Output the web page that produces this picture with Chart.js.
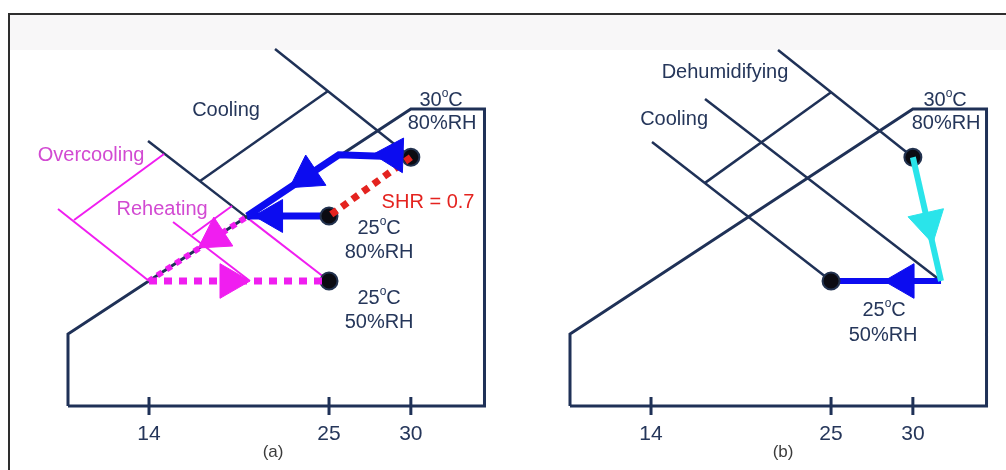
<!DOCTYPE html>
<html>
<head>
<meta charset="utf-8">
<script src="https://cdn.jsdelivr.net/npm/chart.js@4.4.1/dist/chart.umd.min.js"></script>
<style>
    html, body { margin: 0; padding: 0; background: #fff; }
    #page { position: relative; width: 1006px; height: 470px; overflow: hidden; background: #fff; }
    #band { position: absolute; left: 10px; top: 15px; right: 0; height: 35px; background: #f8f7f8; }
    #frame { position: absolute; left: 8px; top: 13px; right: -10px; bottom: -10px;
             border-top: 2px solid #2e2e2e; border-left: 2px solid #2e2e2e; }
    canvas { position: absolute; top: 0; }
    #chartA { left: 0; }
    #chartB { left: 502px; }
</style>
</head>
<body>
<div id="page">
    <div id="band"></div>
    <div id="frame"></div>
    <canvas id="chartA" width="502" height="470"></canvas>
    <canvas id="chartB" width="504" height="470"></canvas>
</div>
<script>
// x = dry-bulb temperature (°C), y = moisture content (g/kg)
const tickTemps = [14, 25, 30];

// chart outline with the saturation line (shared by both panels)
const outline = [[9.05, 0], [34.5, 0], [34.5, 23.76], [30, 23.76], [9.05, 5.76], [9.05, 0]];

// states
const hotHumid = [30, 19.9];     // 30°C 80%RH
const warmHumid = [25, 15.2];    // 25°C 80%RH
const room = [25, 10];           // 25°C 50%RH
const dewPoint = [14, 10];
const coilOut = [20.0, 15.2];

// panel (a)
const enthalpyA1 = [[21.7, 28.56], hotHumid];
const enthalpyA2 = [[13.94, 21.2], [20.17, 14.89]];
const enthalpyA2End = [[20.17, 14.89], room];
const coolingDimA = [[17.12, 18.0], [24.94, 25.2]];
const overcoolLine = [[8.44, 15.76], dewPoint];
const overcoolDim = [[9.42, 14.88], [14.92, 20.16]];
const reheatLine = [[15.47, 14.72], [20.17, 10]];
const reheatDim = [[16.63, 13.68], [19.07, 16.0]];
const coolPathHot = [hotHumid, [25.6, 20.1], coilOut];
const coolPathWarm = [warmHumid, coilOut];
const overcoolPath = [[19.87, 15.04], dewPoint];
const reheatPath = [dewPoint, room];
const shrLine = [hotHumid, warmHumid];

// panel (b)
const enthalpyB1 = [[21.76, 28.48], hotHumid];
const enthalpyB2 = [[17.3, 24.56], [31.72, 10]];
const enthalpyB3 = [[14.06, 21.12], room];
const dimB = [[17.3, 17.85], [25, 25.1]];
const dehumPath = [hotHumid, [31.72, 10]];
const coolPathB = [[31.72, 10], room];

const navy = "#1f3157";
const textNavy = "#25365a";
const magenta = "#f01ef0";
const magentaText = "#d24ad2";
const blue = "#0c0cf0";
const cyan = "#2ae4ea";
const red = "#e4231f";
const font = "'Liberation Sans', Arial, sans-serif";

const labelsA = [
    {text: "Cooling", at: [18.71, 23.68]},
    {text: "Overcooling", at: [10.46, 20.08], color: magentaText},
    {text: "Reheating", at: [14.8, 15.76], color: magentaText},
    {text: "30°C", at: [31.85, 24.48]},
    {text: "80%RH", at: [31.91, 22.64]},
    {text: "SHR = 0.7", at: [31.05, 16.32], color: red},
    {text: "25°C", at: [28.06, 14.24]},
    {text: "80%RH", at: [28.06, 12.32]},
    {text: "25°C", at: [28.06, 8.64]},
    {text: "50%RH", at: [28.06, 6.72]},
    {text: "(a)", at: [21.58, -3.68], size: 17, color: "#3b3b3b"},
];

const labelsB = [
    {text: "Dehumidifying", at: [18.52, 26.72]},
    {text: "Cooling", at: [15.41, 22.96]},
    {text: "30°C", at: [31.97, 24.48]},
    {text: "80%RH", at: [32.03, 22.64]},
    {text: "25°C", at: [28.24, 7.68]},
    {text: "50%RH", at: [28.18, 5.68]},
    {text: "(b)", at: [22.07, -3.68], size: 17, color: "#3b3b3b"},
];

function angleFor(chart, from, to) {
    const xs = chart.scales.x;
    const ys = chart.scales.y;
    const dx = xs.getPixelForValue(to[0]) - xs.getPixelForValue(from[0]);
    const dy = ys.getPixelForValue(to[1]) - ys.getPixelForValue(from[1]);
    return Math.atan2(dx, -dy) * 180 / Math.PI;
}

function line(points, color, width, order, extra = {}) {
    return Object.assign({
        data: points.map(([x, y]) => ({x, y})),
        showLine: true,
        borderColor: color,
        borderWidth: width,
        borderCapStyle: "butt",
        borderJoinStyle: "miter",
        pointRadius: 0,
        tension: 0,
        fill: false,
        clip: false,
        order,
    }, extra);
}

function arrow(at, from, to, color, radius, order) {
    return {
        data: [{x: at[0], y: at[1]}],
        showLine: false,
        pointStyle: "triangle",
        pointRadius: radius,
        pointBackgroundColor: color,
        pointBorderColor: color,
        pointBorderWidth: 1,
        pointRotation: ctx => angleFor(ctx.chart, from, to),
        clip: false,
        order,
    };
}

function dots(points, order) {
    return {
        data: points.map(([x, y]) => ({x, y})),
        showLine: false,
        pointStyle: "circle",
        pointRadius: 8.5,
        pointBackgroundColor: "#0b0b12",
        pointBorderColor: "#22324f",
        pointBorderWidth: 2,
        clip: false,
        order,
    };
}

function frameSets() {
    const sets = [line(outline, navy, 3, 9)];
    tickTemps.forEach(t => sets.push(line([[t, -0.72], [t, 0.72]], navy, 3, 9)));
    return sets;
}

function drawText(ctx, item) {
    const size = item.size || 20;
    const parts = item.text.split("°");
    ctx.fillStyle = item.color || textNavy;
    ctx.textBaseline = "middle";
    ctx.textAlign = "left";
    ctx.font = size + "px " + font;
    if (parts.length === 1) {
        const w = ctx.measureText(item.text).width;
        ctx.fillText(item.text, item.px - w / 2, item.py);
        return;
    }
    // superscript "o" for the degree mark
    const small = Math.round(size * 0.62) + "px " + font;
    const w1 = ctx.measureText(parts[0]).width;
    const w3 = ctx.measureText(parts[1]).width;
    ctx.font = small;
    const w2 = ctx.measureText("o").width;
    let x = item.px - (w1 + w2 + w3) / 2;
    ctx.font = size + "px " + font;
    ctx.fillText(parts[0], x, item.py);
    x += w1;
    ctx.font = small;
    ctx.fillText("o", x, item.py - size * 0.3);
    x += w2;
    ctx.font = size + "px " + font;
    ctx.fillText(parts[1], x, item.py);
}

const labelPlugin = {
    id: "labels",
    afterDatasetsDraw(chart, args, opts) {
        const {ctx, scales: {x, y}} = chart;
        ctx.save();
        opts.items.forEach(item => {
            drawText(ctx, Object.assign({}, item, {
                px: x.getPixelForValue(item.at[0]),
                py: y.getPixelForValue(item.at[1]),
            }));
        });
        ctx.restore();
    }
};

function options(xMax, labels) {
    return {
        responsive: false,
        animation: false,
        events: [],
        layout: {padding: 0, autoPadding: false},
        plugins: {
            legend: {display: false},
            tooltip: {enabled: false},
            labels: {items: labels},
        },
        scales: {
            x: {
                type: "linear",
                min: 4.895,
                max: xMax,
                grid: {display: false},
                border: {display: false},
                afterBuildTicks: scale => {
                    scale.ticks = tickTemps.map(v => ({value: v}));
                },
                afterFit: scale => {
                    scale.height = 64;
                },
                ticks: {
                    color: textNavy,
                    padding: 8,
                    font: {size: 21, family: font},
                    callback: v => String(v),
                },
            },
            y: {display: false, min: 0, max: 32.48},
        },
    };
}

Chart.defaults.font.family = font;

new Chart(document.getElementById("chartA"), {
    type: "scatter",
    data: {
        datasets: [
            arrow([28.91, 20.08], hotHumid, [25.6, 20.1], blue, 20, 0),
            arrow([23.66, 18.4], [25.6, 20.1], coilOut, blue, 21, 0),
            arrow([21.58, 15.2], warmHumid, coilOut, blue, 19, 0),
            arrow([18.95, 10], dewPoint, room, magenta, 20, 0),
            arrow([18.03, 13.52], [19.87, 15.04], dewPoint, magenta, 20, 0),
            line(shrLine, red, 7, 1, {borderDash: [7, 6]}),
            line(reheatPath, magenta, 7, 2, {borderDash: [8, 7]}),
            line(overcoolPath, magenta, 6, 2, {borderDash: [6, 5]}),
            dots([hotHumid, warmHumid, room], 3),
            line(coolPathHot, blue, 7, 4),
            line(coolPathWarm, blue, 7, 4),
            line(enthalpyA2End, magenta, 2, 5),
            line(overcoolLine, magenta, 2, 5),
            line(overcoolDim, magenta, 2, 5),
            line(reheatLine, magenta, 2, 5),
            line(reheatDim, magenta, 2, 5),
            line(enthalpyA1, navy, 2.5, 6),
            line(enthalpyA2, navy, 2.5, 6),
            line(coolingDimA, navy, 2.5, 6),
            ...frameSets(),
        ],
    },
    options: options(35.57, labelsA),
    plugins: [labelPlugin],
});

new Chart(document.getElementById("chartB"), {
    type: "scatter",
    data: {
        datasets: [
            arrow([30.93, 14.64], hotHumid, [31.72, 10], cyan, 21, 0),
            arrow([29.46, 10], [31.72, 10], room, blue, 20, 0),
            line(dehumPath, cyan, 6, 1),
            dots([hotHumid, room], 2),
            line(coolPathB, blue, 6, 3),
            line(enthalpyB1, navy, 2.5, 6),
            line(enthalpyB2, navy, 2.5, 6),
            line(enthalpyB3, navy, 2.5, 6),
            line(dimB, navy, 2.5, 6),
            ...frameSets(),
        ],
    },
    options: options(35.69, labelsB),
    plugins: [labelPlugin],
});
</script>
</body>
</html>
